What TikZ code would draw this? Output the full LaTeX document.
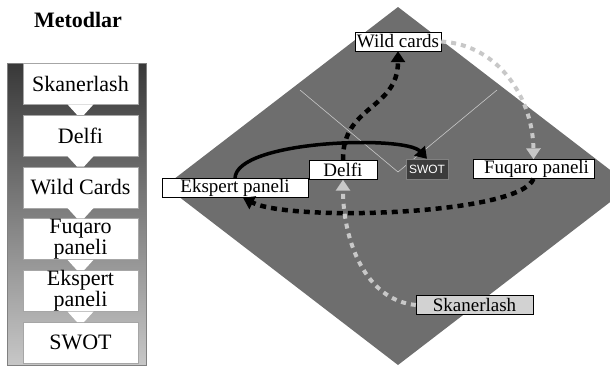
\documentclass[tikz,border=0pt]{standalone}
\usepackage{fontspec}
\setmainfont{Liberation Serif}
\setsansfont{Liberation Sans}
\usetikzlibrary{arrows.meta}

\definecolor{rhomb}{HTML}{6E6E6E}
\definecolor{swotfill}{HTML}{3C3C3C}
\definecolor{pale}{HTML}{C8C8C8}
\definecolor{skanfill}{HTML}{D2D2D2}

\tikzset{
  method/.style={draw=gray!70, fill=white, inner sep=0pt, anchor=north,
    minimum width=115pt, minimum height=41pt, align=center,
    font=\fontsize{22}{18}\selectfont},
  tag/.style={draw=black, fill=white, inner sep=0pt,
    minimum height=19pt, font=\fontsize{19}{19}\selectfont},
  solidarr/.style={line width=3.5pt, -{Triangle[length=11pt,width=14pt]}},
  dotarr/.style={line width=4.5pt, dash pattern=on 6pt off 5pt,
    -{Triangle[length=11pt,width=14pt]}},
  palearr/.style={pale, line width=4pt, dash pattern=on 5pt off 5pt,
    -{Triangle[length=11pt,width=14pt]}}
}

\begin{document}
\begin{tikzpicture}[x=1pt, y=-1pt]
        \useasboundingbox (0,0) rectangle (610,367);
        \clip (0,0) rectangle (610,367);
        % left column: list of methods
        \node[font=\fontsize{22}{22}\selectfont\bfseries] (title) at (78,20) {Metodlar};
        \shade[top color=black!78, bottom color=black!22, draw=gray]
          (7,63) rectangle (146,365);
        \foreach \name/\txt [count=\i from 0] in
          {m1/Skanerlash, m2/Delfi, m3/Wild Cards, m4/Fuqaro\\paneli,
           m5/Ekspert\\paneli, m6/SWOT}
          \node[method] (\name) at (80.5,63+51.8*\i) {\txt};
        \foreach \a/\b in {m1/m2, m2/m3, m3/m4, m4/m5, m5/m6}
          \fill[white] ([xshift=-13pt]\a.south) -- ([xshift=13pt]\a.south)
            -- ([xshift=3.5pt]\b.north) -- ([xshift=-3.5pt]\b.north) -- cycle;
        % right part: the rhombus
        \fill[rhomb] (398,7) -- (631,186) -- (398,365) -- (165,186) -- cycle;
        \draw[pale, line width=0.6pt] (300,90) -- (398,172) -- (497,90);
        \node[tag, minimum width=86pt] (wild) at (398,41.5) {Wild cards};
        \node[tag, minimum width=68pt] (delfi) at (343,170) {Delfi};
        \node[draw=gray, fill=swotfill, text=white, inner sep=0pt,
          minimum width=42pt, minimum height=20pt,
          font=\sffamily\fontsize{12}{12}\selectfont] (swot) at (427,169) {SWOT};
        \node[tag, minimum width=121pt] (fuqaro) at (533.5,169) {\hspace{6pt}Fuqaro paneli};
        \node[tag, minimum width=146pt] (ekspert) at (235,188) {Ekspert paneli};
        \node[tag, fill=skanfill, minimum width=117pt] (skaner) at (474.5,305) {Skanerlash};
        % arrows
        \draw[solidarr] (ekspert.north) .. controls (236,140) and (405,135) .. (swot.north);
        \draw[dotarr] (delfi.north) .. controls (342,105) and (398,110) .. (wild.south);
        \draw[dotarr] (fuqaro.south) .. controls (520,215) and (290,222) .. ([xshift=8pt]ekspert.south);
        \draw[palearr] (skaner.west) .. controls (365,300) and (343,240) .. (delfi.south);
        \draw[palearr] (wild.east) .. controls (500,45) and (533,100) .. (fuqaro.north);
\end{tikzpicture}
\end{document}
